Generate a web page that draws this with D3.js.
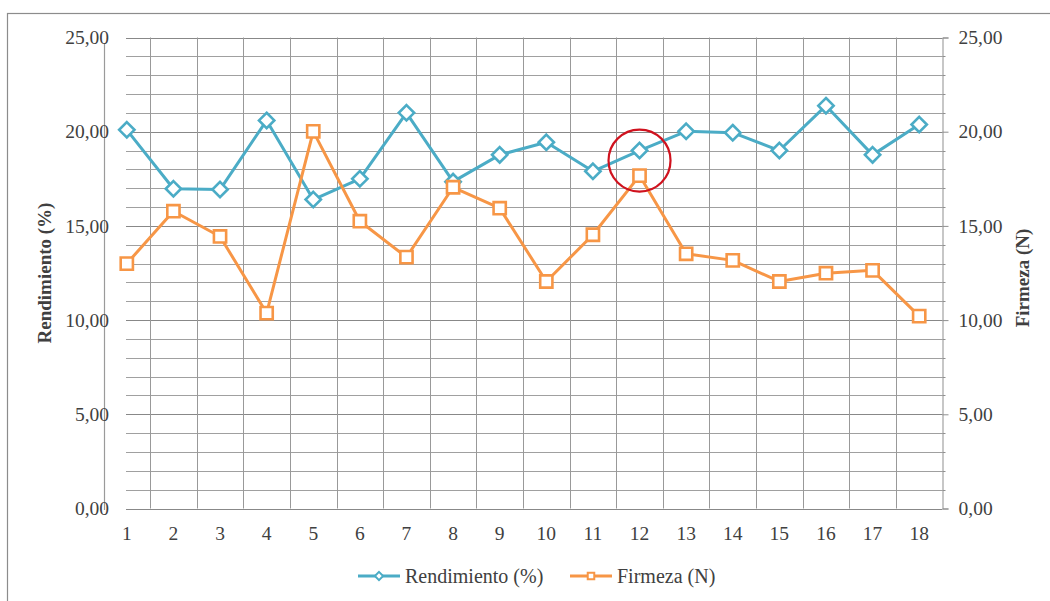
<!DOCTYPE html>
<html>
<head>
<meta charset="utf-8">
<script src="https://cdn.jsdelivr.net/npm/d3@7"></script>
<style>
  html, body { margin: 0; padding: 0; background: #fff; }
  svg { display: block; }
  text { font-family: 'Liberation Serif', 'Times New Roman', serif; fill: #404040; }
</style>
</head>
<body>
<div id="chart"></div>
<script>
const categories = ['1', '2', '3', '4', '5', '6', '7', '8', '9', '10', '11', '12', '13', '14', '15', '16', '17', '18']
const rendimiento = [20.1, 16.97, 16.93, 20.6, 16.4, 17.5, 21.0, 17.35, 18.77, 19.44, 17.9, 19.0, 20.02, 19.95, 19.0, 21.38, 18.77, 20.38]
const firmeza = [13.0, 15.78, 14.44, 10.37, 20.02, 15.25, 13.34, 17.05, 15.94, 12.05, 14.53, 17.67, 13.52, 13.17, 12.05, 12.49, 12.64, 10.21]
const yTicks = [0, 5, 10, 15, 20, 25]
const highlighted = '12'

const width = 1050
const height = 601
const teal = '#4bacc6'
const orange = '#f79646'
const gridColor = '#a0a0a0'
const fmt = v => d3.format('.2f')(v).replace('.', ',')

const x = d3.scaleBand().domain(categories).range([103.5, 942.5])
const cx = d => x(d) + x.bandwidth() / 2
const yLeft = d3.scaleLinear().domain([0, 25]).range([508.5, 37.5])
const yRight = d3.scaleLinear().domain([0, 25]).range([508.5, 37.5])

const svg = d3.select('#chart')
  .append('svg')
  .attr('width', width)
  .attr('height', height)

// chart frame (right and bottom edges fall outside the picture)
svg.append('rect')
  .attr('x', 7.5)
  .attr('y', 13.5)
  .attr('width', 1060)
  .attr('height', 620)
  .attr('fill', '#fff')
  .attr('stroke', '#8c8c8c')
  .attr('stroke-width', 1.2)

const minor = d3.range(0, 26)

svg.append('g')
  .selectAll('line')
  .data(minor)
  .enter().append('line')
  .attr('x1', 126)
  .attr('x2', 942.5)
  .attr('y1', d => Math.round(yLeft(d)) + 0.5)
  .attr('y2', d => Math.round(yLeft(d)) + 0.5)
  .attr('stroke', d => d % 5 === 0 ? '#888' : gridColor)
  .attr('stroke-width', 1)

svg.append('g')
  .selectAll('line')
  .data(categories.slice(1))
  .enter().append('line')
  .attr('x1', d => Math.round(x(d)) + 0.5)
  .attr('x2', d => Math.round(x(d)) + 0.5)
  .attr('y1', yLeft(25))
  .attr('y2', yLeft(0))
  .attr('stroke', '#999')
  .attr('stroke-width', 1)

// left axis line
svg.append('line')
  .attr('x1', 104.5).attr('x2', 104.5)
  .attr('y1', 43).attr('y2', 510)
  .attr('stroke', '#9a9a9a')
  .attr('stroke-width', 1.2)

// right axis
const rightAxis = d3.axisRight(yRight)
  .tickValues(yTicks)
  .tickSize(6)
  .tickFormat(fmt)

const gRight = svg.append('g')
  .attr('transform', 'translate(942.5,0)')
  .call(rightAxis)
gRight.select('.domain').attr('stroke', '#8f8f8f')
gRight.selectAll('.tick line').attr('stroke', '#8f8f8f')
gRight.selectAll('.tick text')
  .attr('x', 16)
  .attr('font-size', 19.5)
  .attr('font-family', null)
  .attr('fill', '#404040')

svg.append('g')
  .selectAll('line')
  .data(minor.filter(d => d % 5 !== 0))
  .enter().append('line')
  .attr('x1', 942.5)
  .attr('x2', 945.5)
  .attr('y1', d => Math.round(yRight(d)) + 0.5)
  .attr('y2', d => Math.round(yRight(d)) + 0.5)
  .attr('stroke', '#8f8f8f')

// left tick labels
svg.append('g')
  .selectAll('text')
  .data(yTicks)
  .enter().append('text')
  .attr('x', 109)
  .attr('y', d => yLeft(d))
  .attr('dy', '0.34em')
  .attr('text-anchor', 'end')
  .attr('font-size', 19.5)
  .text(fmt)

// category labels
svg.append('g')
  .selectAll('text')
  .data(categories)
  .enter().append('text')
  .attr('x', cx)
  .attr('y', 533)
  .attr('dy', '0.34em')
  .attr('text-anchor', 'middle')
  .attr('font-size', 19.5)
  .text(d => d)

svg.append('text')
  .attr('transform', 'translate(45,273) rotate(-90)')
  .attr('text-anchor', 'middle')
  .attr('dy', '0.34em')
  .attr('font-size', 19)
  .attr('font-weight', 'bold')
  .attr('fill', '#222')
  .text('Rendimiento (%)')

svg.append('text')
  .attr('transform', 'translate(1023,278) rotate(-90)')
  .attr('text-anchor', 'middle')
  .attr('dy', '0.34em')
  .attr('font-size', 19)
  .attr('font-weight', 'bold')
  .attr('fill', '#222')
  .text('Firmeza (N)')

const series = [
  { name: 'Rendimiento (%)', values: rendimiento, color: teal, scale: yLeft, symbol: d3.symbolDiamond2, size: 150 },
  { name: 'Firmeza (N)', values: firmeza, color: orange, scale: yRight, symbol: d3.symbolSquare2, size: 190 },
]

series.forEach(s => {
  const points = categories.map((c, i) => ({ c, v: s.values[i] }))
  const line = d3.line()
    .x(d => cx(d.c))
    .y(d => s.scale(d.v))

  svg.append('path')
    .datum(points)
    .attr('d', line)
    .attr('fill', 'none')
    .attr('stroke', s.color)
    .attr('stroke-width', 3)
    .attr('stroke-linejoin', 'round')

  svg.append('g')
    .selectAll('path')
    .data(points)
    .enter().append('path')
    .attr('transform', d => `translate(${cx(d.c)},${s.scale(d.v)})`)
    .attr('d', d3.symbol(s.symbol, s.size))
    .attr('fill', '#fff')
    .attr('stroke', s.color)
    .attr('stroke-width', 2.6)
})

// highlight circle around point 12, a little above the midpoint of its two markers
const hi = categories.indexOf(highlighted)
svg.append('circle')
  .attr('cx', cx(highlighted))
  .attr('cy', (yLeft(rendimiento[hi]) + yRight(firmeza[hi])) / 2 - 2.5)
  .attr('r', 31)
  .attr('fill', 'none')
  .attr('stroke', '#d0121e')
  .attr('stroke-width', 2.2)

// legend
const legend = svg.append('g')
const legendItems = [
  { ...series[0], x: 358 },
  { ...series[1], x: 570 },
]
legendItems.forEach(s => {
  const g = legend.append('g').attr('transform', `translate(${s.x},576)`)
  g.append('line')
    .attr('x1', 0).attr('x2', 42)
    .attr('stroke', s.color)
    .attr('stroke-width', 3)
  g.append('path')
    .attr('transform', 'translate(21,0)')
    .attr('d', d3.symbol(s.symbol, s.size / 3.5))
    .attr('fill', '#fff')
    .attr('stroke', s.color)
    .attr('stroke-width', 2)
  g.append('text')
    .attr('x', 47)
    .attr('dy', '0.34em')
    .attr('font-size', 20)
    .text(s.name)
})
</script>
</body>
</html>
